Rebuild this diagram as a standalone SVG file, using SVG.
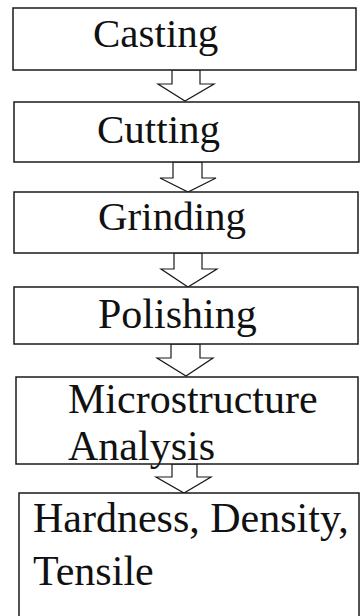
<svg xmlns="http://www.w3.org/2000/svg" width="361" height="616" viewBox="0 0 361 616">
<style>
.box{fill:#fff;stroke:#1a1a1a;stroke-width:1.5}
.arr{fill:#fff;stroke:#1a1a1a;stroke-width:1.2;stroke-linejoin:miter}
text{font-family:"Liberation Serif","Times New Roman",serif;font-size:42px;fill:#111}
</style>
<rect width="361" height="616" fill="#fff"/>
<g id="connectors">
<polygon class="arr" points="172,70 172,84 158,84 185,101 214,84 200,84 200,70"/>
<polygon class="arr" points="173,162 173,178 160,178 188,192 216,178 202,178 202,162"/>
<polygon class="arr" points="174,253 174,269 161,269 188,287 217,269 202,269 202,253"/>
<polygon class="arr" points="171,344 171,358 157,358 186,376 213,358 200,358 200,344"/>
<polygon class="arr" points="172,464 172,477 156,477 184,493 211,477 197,477 197,464"/>
</g>
<g id="casting">
<rect class="box" x="13" y="8" width="343" height="62"/>
<text x="93" y="47" style="font-size:41px">Casting</text>
</g>
<g id="cutting">
<rect class="box" x="14" y="102" width="345" height="60"/>
<text x="97" y="143" style="font-size:41px">Cutting</text>
</g>
<g id="grinding">
<rect class="box" x="14" y="192" width="344" height="61"/>
<text x="98" y="230" style="font-size:41px">Grinding</text>
</g>
<g id="polishing">
<rect class="box" x="14" y="287" width="344" height="57"/>
<text x="98" y="328">Polishing</text>
</g>
<g id="microstructure">
<rect class="box" x="16" y="377" width="342" height="87"/>
<text x="68" y="413">Microstructure</text>
<text x="68" y="460">Analysis</text>
</g>
<g id="hardness">
<rect class="box" x="19" y="493" width="340" height="130"/>
<text x="33" y="532">Hardness, Density,</text>
<text x="33" y="585">Tensile</text>
</g>
</svg>
